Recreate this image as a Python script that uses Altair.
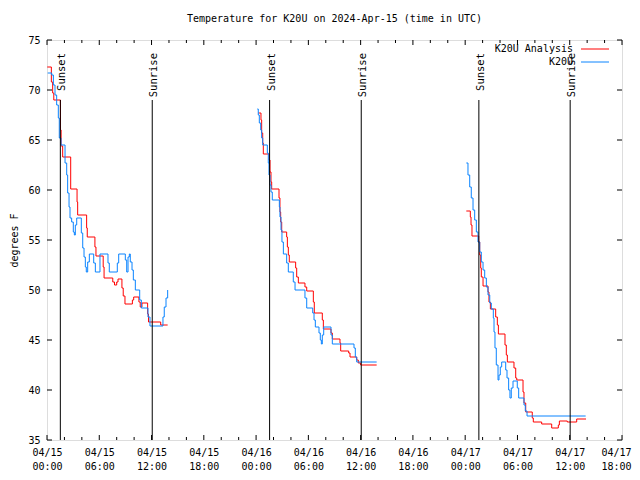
import altair as alt
import pandas as pd

# ---------------- data (hours after 2024-04-15 00:00 UTC, degrees F) -------------
analysis_h1 = [0.03, 0.50, 0.65, 0.78, 1.55, 1.62, 1.80, 2.72, 3.45, 3.52, 4.55, 4.62, 5.50, 5.62,
               6.45, 6.55, 7.55, 7.75, 8.00, 8.15, 8.60, 8.75, 8.95, 9.80, 9.95, 10.55, 10.70,
               10.90, 11.55, 11.65, 13.05, 13.85]
analysis_t1 = [72.3, 70.8, 69.7, 69.0, 66.0, 64.4, 63.3, 60.1, 58.8, 57.5, 56.2, 55.3, 54.3, 53.4,
               52.3, 51.2, 50.8, 50.5, 50.8, 51.1, 50.2, 49.4, 48.6, 49.0, 49.3, 48.8, 48.3,
               48.7, 47.6, 46.8, 46.5, 46.5]

analysis_h2 = [24.25, 24.56, 24.64, 24.76, 24.83, 25.48, 25.60, 25.71, 25.79, 26.63, 26.74, 26.82,
               26.94, 27.51, 27.59, 27.70, 27.81, 28.54, 28.66, 28.85, 29.61, 29.81, 30.57, 30.68,
               31.60, 31.72, 32.60, 32.75, 33.63, 33.71, 34.63, 34.78, 35.55, 35.73, 36.00, 37.84]
analysis_t2 = [67.7, 67.0, 65.7, 64.7, 63.6, 63.0, 61.8, 60.8, 60.1, 59.2, 57.8, 56.8,
               55.8, 55.3, 54.3, 53.5, 52.8, 52.2, 51.3, 50.7, 50.3, 49.9, 48.8, 47.7,
               47.0, 46.1, 45.7, 45.1, 44.7, 43.9, 43.7, 43.3, 43.0, 42.7, 42.5, 42.5]

analysis_h3 = [48.13, 48.59, 48.67, 48.78, 49.55, 49.67, 49.78, 49.85, 50.05, 50.62, 50.73, 50.89,
               51.50, 51.69, 51.81, 52.57, 52.72, 52.84, 53.60, 53.80, 53.92, 54.64, 54.75, 54.95,
               55.70, 55.82, 56.78, 57.93, 58.69, 58.81, 59.72, 60.80, 61.87]
analysis_t3 = [57.9, 57.3, 56.5, 55.4, 54.8, 53.5, 52.2, 51.3, 50.4, 49.8, 48.8, 48.1,
               47.3, 46.5, 45.6, 44.5, 43.5, 42.8, 42.2, 41.2, 41.0, 39.8, 38.7, 37.8,
               37.2, 36.8, 36.6, 36.2, 36.5, 36.9, 36.8, 37.1, 37.1]

obs_h1 = [0.08, 0.54, 0.73, 0.92, 1.11, 1.30, 1.41, 1.61, 2.07, 2.26, 2.37, 2.53, 2.64, 2.83,
          3.02, 3.14, 3.25, 3.41, 3.94, 4.10, 4.25, 4.40, 4.51, 4.67, 4.86, 5.36, 5.55, 6.08,
          7.00, 7.15, 8.07, 8.23, 8.99, 9.15, 9.30, 9.45, 9.56, 9.76, 9.91, 10.14, 10.64,
          10.83, 11.59, 11.82, 13.31, 13.46, 13.66, 13.85]
obs_t1 = [71.7, 71.5, 70.5, 69.5, 68.5, 67.2, 65.2, 64.5, 62.7, 61.5, 59.7, 58.3, 57.2, 56.8,
          55.8, 55.5, 56.5, 57.2, 55.7, 54.2, 53.3, 52.3, 51.8, 52.8, 53.6, 52.7, 51.8, 53.6,
          52.7, 51.8, 52.7, 53.6, 53.0, 51.8, 53.3, 53.6, 52.8, 52.0, 51.0, 50.0, 49.0,
          48.2, 47.3, 46.4, 47.3, 48.3, 49.2, 50.0]

obs_h2 = [24.14, 24.25, 24.37, 24.53, 24.64, 24.76, 25.29, 25.40, 25.48, 25.60, 25.71, 25.86,
          26.67, 26.74, 26.86, 26.97, 27.13, 27.51, 27.70, 28.27, 28.47, 29.61, 29.81, 30.50,
          30.65, 30.80, 31.22, 31.37, 31.49, 31.60, 31.76, 32.60, 32.75, 35.24, 35.39, 35.55, 37.84]
obs_t2 = [68.1, 67.5, 66.7, 66.0, 65.2, 64.5, 63.7, 62.7, 61.5, 60.5, 59.8, 59.0,
          58.3, 57.3, 56.0, 54.8, 53.6, 52.7, 51.8, 50.8, 50.0, 49.2, 48.2, 47.7,
          47.0, 46.3, 45.7, 45.0, 44.6, 45.5, 46.3, 45.5, 44.6, 44.2, 43.3, 42.8, 42.8]

obs_h3 = [48.13, 48.32, 48.52, 48.70, 48.90, 49.09, 49.28, 49.47, 49.67, 49.85, 50.05, 50.24,
          50.43, 50.62, 50.82, 51.00, 51.23, 51.31, 51.42, 51.57, 51.77, 51.88, 52.03, 52.19,
          52.65, 52.80, 52.99, 53.14, 53.29, 53.49, 53.98, 54.14, 54.75, 54.90, 55.10, 61.83]
obs_t3 = [62.7, 61.5, 60.3, 59.2, 58.0, 57.0, 55.8, 54.8, 53.8, 52.8, 52.0, 51.2,
          50.3, 49.5, 48.7, 48.1, 47.2, 45.8, 44.2, 42.5, 41.0, 41.5, 42.3, 42.8,
          42.0, 41.2, 40.0, 39.2, 40.2, 40.9, 40.2, 39.2, 38.5, 37.9, 37.4, 37.4]

sun_events = ["Sunset", "Sunrise", "Sunset", "Sunrise", "Sunset", "Sunrise"]
sun_hours = [1.53, 12.08, 25.55, 36.07, 49.57, 60.05]

series_names = ["K20U Analysis", "K20U"]
series_colors = ["#ff0000", "#0a84ff"]

x_major_hours = list(range(0, 67, 6))
x_minor_hours = [h for h in range(0, 67, 2) if h % 6 != 0]
y_major = [35, 40, 45, 50, 55, 60, 65, 70, 75]

title_text = "Temperature for K20U on 2024-Apr-15 (time in UTC)"
y_title = "degrees F"

# ---------------- helpers ----------------
BASE = pd.Timestamp("2024-04-15T00:00:00Z")


def ms(h):
    return int((BASE + pd.Timedelta(hours=h)).value // 10**6)


def seg_frame(hs, ts, name, seg):
    return pd.DataFrame({"t": [ms(h) for h in hs], "temp": ts, "series": name, "seg": seg})


red_df = pd.concat([seg_frame(analysis_h1, analysis_t1, series_names[0], 1),
                    seg_frame(analysis_h2, analysis_t2, series_names[0], 2),
                    seg_frame(analysis_h3, analysis_t3, series_names[0], 3)])
blue_df = pd.concat([seg_frame(obs_h1, obs_t1, series_names[1], 1),
                     seg_frame(obs_h2, obs_t2, series_names[1], 2),
                     seg_frame(obs_h3, obs_t3, series_names[1], 3)])
sun_df = pd.DataFrame({"t": [ms(h) for h in sun_hours], "label": sun_events})
xmaj_df = pd.DataFrame({"t": [ms(h) for h in x_major_hours]})
xmin_df = pd.DataFrame({"t": [ms(h) for h in x_minor_hours]})
ymaj_df = pd.DataFrame({"temp": y_major})
legend_df = pd.DataFrame({"series": series_names, "row": [0, 1]})

FONT = "DejaVu Sans Mono"
W, H = 575, 400
LAST = ms(x_major_hours[-1])

xscale = alt.Scale(type="utc", domain=[ms(0), ms(66)], nice=False)
yscale = alt.Scale(domain=[35, 75], nice=False, zero=False)
cscale = alt.Scale(domain=series_names, range=series_colors)

xaxis = alt.Axis(values=[ms(h) for h in x_major_hours],
                 labelExpr="[utcFormat(datum.value, '%m/%d'), utcFormat(datum.value, '%H:%M')]",
                 labelLineHeight=14, labelBaseline="top", labelPadding=7,
                 labelOffset={"condition": {"test": f"datum.value >= {LAST}", "value": -6},
                              "value": 0},
                 ticks=False, domain=False, grid=False, title=None,
                 labelFlush=False, labelOverlap=False, labelFont=FONT, labelFontSize=10,
                 labelColor="black")
yaxis = alt.Axis(values=y_major, ticks=False, domain=False, grid=False, labelPadding=7,
                 title=y_title, titleX=-33, titleY=200, titleAngle=270, titleAlign="center",
                 titleBaseline="middle", titleFont=FONT, titleFontSize=10, titleFontWeight="normal",
                 titleColor="black",
                 labelFlush=False, labelOverlap=False, labelFont=FONT, labelFontSize=10,
                 labelColor="black")

XENC = alt.X("t:T", scale=xscale, axis=xaxis)
YENC = alt.Y("temp:Q", scale=yscale, axis=yaxis)


def line_layer(df):
    return alt.Chart(df).mark_line(interpolate="step-after", strokeWidth=1).encode(
        x=XENC, y=YENC,
        color=alt.Color("series:N", scale=cscale, legend=None),
        detail="seg:N",
    )


red = line_layer(red_df)
blue = line_layer(blue_df)

sun_rules = alt.Chart(sun_df).mark_rule(color="black", strokeWidth=1).encode(
    x=XENC, y=alt.value(60), y2=alt.value(H))
sun_text = alt.Chart(sun_df).mark_text(angle=270, align="right", baseline="alphabetic",
                                       dy=5, font=FONT, fontSize=10.5, color="black").encode(
    x=XENC, y=alt.value(13), text="label:N")

tick_kw = dict(color="black", strokeWidth=1)
xmaj_b = alt.Chart(xmaj_df).mark_rule(**tick_kw).encode(x=XENC, y=alt.value(H), y2=alt.value(H - 5))
xmaj_t = alt.Chart(xmaj_df).mark_rule(**tick_kw).encode(x=XENC, y=alt.value(0), y2=alt.value(5))
xmin_b = alt.Chart(xmin_df).mark_rule(**tick_kw).encode(x=XENC, y=alt.value(H), y2=alt.value(H - 3))
xmin_t = alt.Chart(xmin_df).mark_rule(**tick_kw).encode(x=XENC, y=alt.value(0), y2=alt.value(3))
ymaj_l = alt.Chart(ymaj_df).mark_rule(**tick_kw).encode(y=YENC, x=alt.value(0), x2=alt.value(5))
ymaj_r = alt.Chart(ymaj_df).mark_rule(**tick_kw).encode(y=YENC, x=alt.value(W), x2=alt.value(W - 5))

leg_text0 = alt.Chart(legend_df.iloc[[0]]).mark_text(align="right", baseline="middle", font=FONT,
                                                     fontSize=10, color="black").encode(
    x=alt.value(526), y=alt.value(9), text="series:N")
leg_text1 = alt.Chart(legend_df.iloc[[1]]).mark_text(align="right", baseline="middle", font=FONT,
                                                     fontSize=10, color="black").encode(
    x=alt.value(526), y=alt.value(22), text="series:N")
leg_line0 = alt.Chart(legend_df.iloc[[0]]).mark_rule(strokeWidth=1).encode(
    x=alt.value(534), x2=alt.value(562), y=alt.value(9),
    color=alt.Color("series:N", scale=cscale, legend=None))
leg_line1 = alt.Chart(legend_df.iloc[[1]]).mark_rule(strokeWidth=1).encode(
    x=alt.value(534), x2=alt.value(562), y=alt.value(22),
    color=alt.Color("series:N", scale=cscale, legend=None))

chart = alt.layer(
    red, blue, sun_rules, sun_text, xmaj_b, xmaj_t, xmin_b, xmin_t, ymaj_l, ymaj_r,
    leg_text0, leg_text1, leg_line0, leg_line1,
).properties(
    width=W, height=H,
    title=alt.TitleParams(title_text, font=FONT, fontSize=10, fontWeight="normal",
                          anchor="middle", offset=11, color="black"),
    autosize=alt.AutoSizeParams(type="none"),
    padding={"left": 39, "top": 32, "right": 10, "bottom": 30},
).configure_view(
    stroke="black", strokeWidth=1
).configure(background="white")

chart.save("out.html", embed_options={"renderer": "svg", "actions": False})
